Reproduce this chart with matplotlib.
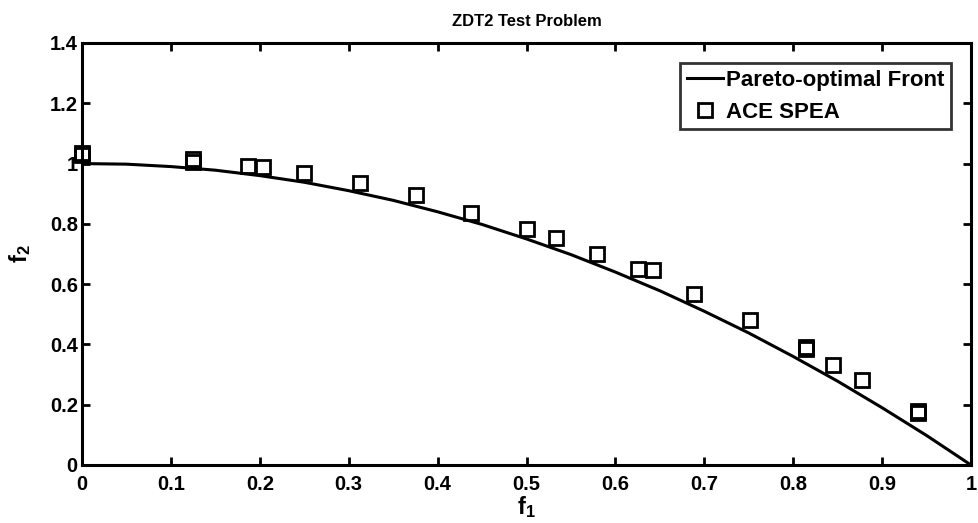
import matplotlib
matplotlib.use("Agg")
import matplotlib.pyplot as plt

plt.rcParams['font.family'] = ['Liberation Sans', 'DejaVu Sans']
plt.rcParams['font.weight'] = 'bold'
plt.rcParams['mathtext.fontset'] = 'custom'
plt.rcParams['mathtext.rm'] = 'Liberation Sans:bold'
plt.rcParams['mathtext.it'] = 'Liberation Sans:bold'
plt.rcParams['mathtext.bf'] = 'Liberation Sans:bold'

# Pareto-optimal front
front_f1 = [0.0, 0.05, 0.1, 0.15, 0.2, 0.25, 0.3, 0.35, 0.4, 0.45, 0.5,
            0.55, 0.6, 0.65, 0.7, 0.75, 0.8, 0.85, 0.9, 0.95, 1.0]
front_f2 = [1.0, 0.998, 0.99, 0.978, 0.96, 0.938, 0.91, 0.878, 0.84, 0.798, 0.75,
            0.698, 0.64, 0.578, 0.51, 0.438, 0.36, 0.278, 0.19, 0.098, 0.0]

# ACE SPEA solutions
spea_f1 = [0.0, 0.0, 0.125, 0.125, 0.187, 0.204, 0.25, 0.313, 0.376, 0.4375,
           0.5, 0.533, 0.579, 0.625, 0.642, 0.688, 0.751, 0.814, 0.814, 0.845,
           0.877, 0.94, 0.94]
spea_f2 = [1.03, 1.035, 1.005, 1.015, 0.993, 0.987, 0.970, 0.934, 0.897, 0.837,
           0.784, 0.754, 0.701, 0.651, 0.648, 0.568, 0.482, 0.386, 0.392, 0.332,
           0.282, 0.174, 0.180]

xticks = [0, 0.1, 0.2, 0.3, 0.4, 0.5, 0.6, 0.7, 0.8, 0.9, 1]
xticklabels = ['0', '0.1', '0.2', '0.3', '0.4', '0.5', '0.6', '0.7', '0.8', '0.9', '1']
yticks = [0, 0.2, 0.4, 0.6, 0.8, 1.0, 1.2, 1.4]
yticklabels = ['0', '0.2', '0.4', '0.6', '0.8', '1', '1.2', '1.4']

fig = plt.figure(figsize=(9.79, 5.23), dpi=100)
ax = fig.add_axes([0.0838, 0.1109, 0.9080, 0.8069])

ax.plot(front_f1, front_f2, color='k', linewidth=2.2, label='Pareto-optimal Front')
ax.plot(spea_f1, spea_f2, linestyle='none', marker='s', markersize=10,
        markerfacecolor='none', markeredgecolor='k', markeredgewidth=2.0,
        label='ACE SPEA', clip_on=False)

ax.set_xlim(0, 1)
ax.set_ylim(0, 1.4)
ax.set_xticks(xticks)
ax.set_xticklabels(xticklabels)
ax.set_yticks(yticks)
ax.set_yticklabels(yticklabels)
ax.tick_params(direction='in', length=6, width=2, top=True, right=True,
               labelsize=14.5)
ax.tick_params(axis='x', pad=7)
ax.tick_params(axis='y', pad=3)
for s in ax.spines.values():
    s.set_linewidth(2.2)

ax.set_title('ZDT2 Test Problem', fontsize=12, fontweight='bold', pad=12)
ax.set_xlabel('$\\mathbf{f_1}$', fontsize=17, labelpad=0)
ax.set_ylabel('$\\mathbf{f_2}$', fontsize=17, labelpad=12)

leg = ax.legend(loc='upper right', fontsize=16, frameon=True, fancybox=False,
                borderpad=0.3, handlelength=1.6, handletextpad=0.15,
                labelspacing=0.5, borderaxespad=0.9)
leg.get_frame().set_edgecolor('k')
leg.get_frame().set_linewidth(2)
for t in leg.get_texts():
    t.set_fontweight('bold')

fig.savefig('out.png', dpi=100)
